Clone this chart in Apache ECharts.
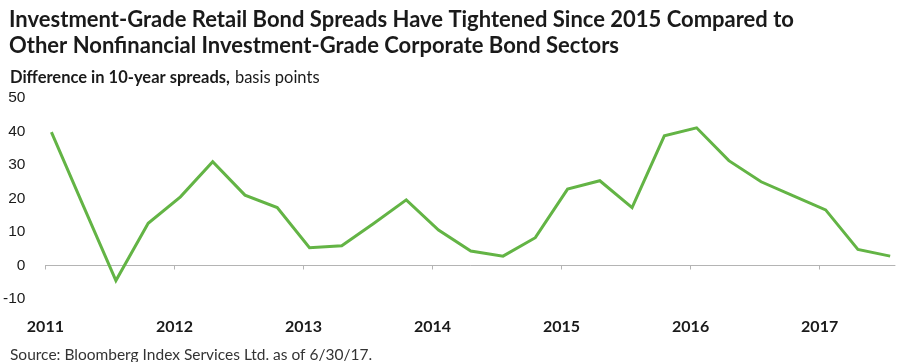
<!DOCTYPE html>
<html><head><meta charset="utf-8">
<script src="https://cdn.jsdelivr.net/npm/echarts@6/dist/echarts.min.js"></script>
<style>html,body{margin:0;padding:0;background:#fff}#c{width:916px;height:362px}</style>
</head><body><div id="c"></div>
<script>
const quarters = ['2011 Q1','2011 Q2','2011 Q3','2011 Q4','2012 Q1','2012 Q2','2012 Q3','2012 Q4',
  '2013 Q1','2013 Q2','2013 Q3','2013 Q4','2014 Q1','2014 Q2','2014 Q3','2014 Q4',
  '2015 Q1','2015 Q2','2015 Q3','2015 Q4','2016 Q1','2016 Q2','2016 Q3','2016 Q4',
  '2017 Q1','2017 Q2','2017 Q3'];
const spreads = [39.8, 17.6, -4.5, 12.6, 20.5, 31.0, 21.0, 17.3,
  5.3, 5.9, 12.6, 19.6, 10.6, 4.3, 2.8, 8.3,
  22.8, 25.3, 17.3, 38.7, 41.1, 31.3, 25.0, 20.8,
  16.6, 4.8, 2.8];
const yearLabels = ['2011','2012','2013','2014','2015','2016','2017'];
const yTickLabels = ['-10','0','10','20','30','40','50'];

const yearStart = -0.186;           // axis position of the first year tick (in quarter units)
const yearTicks = yearLabels.map((_, i) => yearStart + 4 * i);
const xMin = yearStart, xMax = 26.15;

const chart = echarts.init(document.getElementById('c'), null, {renderer: 'canvas'});
chart.setOption({
  animation: false,
  backgroundColor: '#fff',
  title: [{
    left: 4, top: 2,
    text: 'Investment-Grade Retail Bond Spreads Have Tightened Since 2015 Compared to\nOther Nonfinancial Investment-Grade Corporate Bond Sectors',
    textStyle: {fontFamily: 'Lato', fontWeight: 'bold', fontSize: 22, lineHeight: 26, color: '#1a1a1a'}
  }, {
    left: 5, top: 64,
    text: '{b|Difference in 10-year spreads,} {n|basis points}',
    textStyle: {
      rich: {
        b: {fontFamily: 'Lato', fontWeight: 'bold', fontSize: 16.5, color: '#1a1a1a'},
        n: {fontFamily: 'Lato', fontWeight: 'normal', fontSize: 16.5, color: '#1a1a1a'}
      }
    }
  }, {
    left: 5, top: 342,
    text: 'Source: Bloomberg Index Services Ltd. as of 6/30/17.',
    textStyle: {fontFamily: 'Lato', fontWeight: 'normal', fontSize: 15.5, color: '#333'}
  }],
  grid: {left: 45, right: 21, top: 98, bottom: 63, containLabel: false},
  xAxis: [{
    type: 'value', min: xMin, max: xMax,
    axisLine: {show: true, onZero: true, lineStyle: {color: '#b4b4b4', width: 1}},
    axisTick: {show: true, customValues: yearTicks, length: 4, lineStyle: {color: '#b4b4b4'}},
    axisLabel: {show: false},
    splitLine: {show: false}
  }, {
    type: 'value', min: xMin, max: xMax, position: 'bottom',
    axisLine: {show: false, onZero: false},
    axisTick: {show: false},
    axisLabel: {
      show: true, customValues: yearTicks, margin: 20,
      formatter: v => yearLabels[Math.round((v - yearStart) / 4)],
      fontFamily: 'Lato', fontWeight: 'bold', fontSize: 16, color: '#1a1a1a'
    },
    splitLine: {show: false}
  }],
  yAxis: {
    type: 'value', min: -10, max: 50, interval: 10,
    axisLine: {show: false}, axisTick: {show: false}, splitLine: {show: false},
    axisLabel: {
      margin: 20, fontFamily: 'Liberation Sans', fontSize: 15.5, color: '#1a1a1a',
      formatter: v => yTickLabels[Math.round((v + 10) / 10)]
    }
  },
  series: [{
    type: 'line', name: 'Difference in 10-year spreads',
    xAxisIndex: 0,
    data: spreads.map((v, i) => [i, v, quarters[i]]),
    showSymbol: false, symbol: 'none',
    lineStyle: {color: '#63b445', width: 3, join: 'miter'},
    silent: true
  }]
});
</script></body></html>
